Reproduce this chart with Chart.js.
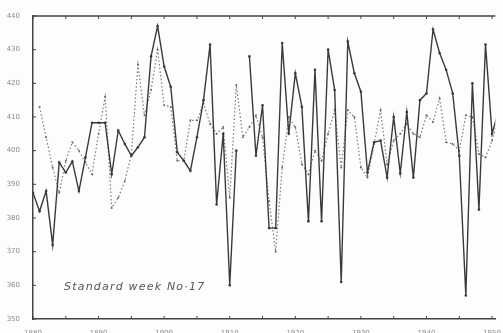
<!DOCTYPE html>
<html>
<head>
<meta charset="utf-8">
<script src="https://cdn.jsdelivr.net/npm/chart.js@4.4.1/dist/chart.umd.min.js"></script>
<style>
  html, body { margin: 0; padding: 0; background: #fdfdfb; }
  #wrap { position: relative; width: 503px; height: 333px; }
  #note {
    position: absolute; left: 64px; top: 280px;
    font-family: "DejaVu Sans", sans-serif; font-style: italic;
    font-size: 11px; letter-spacing: 1.2px; color: #555;
  }
</style>
</head>
<body>
<div id="wrap">
  <canvas id="myChart" width="503" height="333"></canvas>
  <div id="note">Standard week No·17</div>
</div>
<script>
// years and the two traced series (solid and dotted)
const years = [1880,1881,1882,1883,1884,1885,1886,1887,1888,1889,
  1890,1891,1892,1893,1894,1895,1896,1897,1898,1899,
  1900,1901,1902,1903,1904,1905,1906,1907,1908,1909,
  1910,1911,1912,1913,1914,1915,1916,1917,1918,1919,
  1920,1921,1922,1923,1924,1925,1926,1927,1928,1929,
  1930,1931,1932,1933,1934,1935,1936,1937,1938,1939,
  1940,1941,1942,1943,1944,1945,1946,1947,1948,1949,
  1950,1951];
const solid = [387.5,382,388,372,396.5,393.5,396.8,388,398,408.3,
  408.3,408.3,393,406,402,398.5,401,404,428,437,
  425,419,399.5,397,394,404,415,431.5,384,405,
  360,400,null,428,398.5,413.5,377,377,432,405,
  423,413,379,424,379,430,418,361,432.4,423,
  417.5,393.5,402.5,403,392,410,393.3,411.5,392,415,
  417,436,429,424,417,398.5,357,420,382.5,431.5,
  405,412];
const dotted = [null,413,404,395,387.5,397,402.5,400,396.5,393,
  405,416,383,386,391,399,425.5,410.5,418,430,
  413.5,413,397,397,409,409,414,408,405,407,
  386,419.5,404,407,410.5,404,385,370,395,410,
  407,396,393,400,397,405,412,395,412,410,
  395,392,402,412,396,403,405,408,405,404,
  410.5,408.5,415.5,402.5,402,400,410.5,410,399,398,
  403,410];
const yTicks = [350,360,370,380,390,400,410,420,430,440];
const xTicks = [1880,1885,1890,1895,1900,1905,1910,1915,1920,1925,1930,1935,1940,1945,1950];

const pts = arr => years.map((y, i) => ({x: y, y: arr[i]}));

// small inward tick marks and the top frame line
const frame = {
  id: 'frame',
  afterDraw(chart) {
    const ctx = chart.ctx, a = chart.chartArea;
    const xs = chart.scales.x, ys = chart.scales.y;
    ctx.save();
    ctx.strokeStyle = '#444';
    ctx.lineWidth = 1.5;
    ctx.beginPath();
    ctx.moveTo(a.left, a.top);
    ctx.lineTo(a.right, a.top);
    ctx.stroke();
    ctx.lineWidth = 1;
    ctx.beginPath();
    xTicks.forEach(v => {
      const px = xs.getPixelForValue(v);
      ctx.moveTo(px, a.bottom); ctx.lineTo(px, a.bottom - 3);
      ctx.moveTo(px, a.top); ctx.lineTo(px, a.top + 3);
    });
    yTicks.forEach(v => {
      const py = ys.getPixelForValue(v);
      ctx.moveTo(a.left, py); ctx.lineTo(a.left + 3, py);
    });
    ctx.stroke();
    ctx.restore();
  }
};

var ctx = document.getElementById('myChart').getContext('2d');
var chart = new Chart(ctx, {
  type: 'line',
  data: {
    datasets: [
      {
        label: 'solid',
        data: pts(solid),
        borderColor: '#3a3a3a',
        backgroundColor: '#3a3a3a',
        borderWidth: 1.4,
        pointRadius: 1.3,
        pointBorderWidth: 0,
        tension: 0,
        spanGaps: false
      },
      {
        label: 'dotted',
        data: pts(dotted),
        borderColor: '#7a7a7a',
        backgroundColor: '#6a6a6a',
        borderWidth: 1.2,
        borderDash: [1.5, 2.2],
        pointRadius: 1,
        pointBorderWidth: 0,
        tension: 0
      }
    ]
  },
  options: {
    responsive: false,
    animation: false,
    layout: { padding: { top: 16, right: 0, left: 0, bottom: 0 } },
    plugins: { legend: { display: false }, tooltip: { enabled: false } },
    scales: {
      x: {
        type: 'linear',
        min: 1880,
        max: 1950.5,
        grid: { display: false },
        border: { display: true, color: '#444', width: 1.5 },
        afterBuildTicks: s => { s.ticks = xTicks.map(v => ({value: v})); },
        afterFit: s => { s.height = 14; },
        ticks: {
          autoSkip: false,
          maxRotation: 0,
          padding: 2,
          color: '#8a8a8a',
          font: { family: 'DejaVu Sans', size: 7 },
          callback: v => (v % 10 === 0 ? String(v) : '')
        }
      },
      y: {
        min: 350,
        max: 440,
        grid: { display: false },
        border: { display: true, color: '#444', width: 1.5 },
        afterBuildTicks: s => { s.ticks = yTicks.map(v => ({value: v})); },
        afterFit: s => { s.width = 33; },
        ticks: {
          padding: 5,
          color: '#8a8a8a',
          font: { family: 'DejaVu Sans', size: 7 }
        }
      }
    }
  },
  plugins: [frame]
});
</script>
</body>
</html>
